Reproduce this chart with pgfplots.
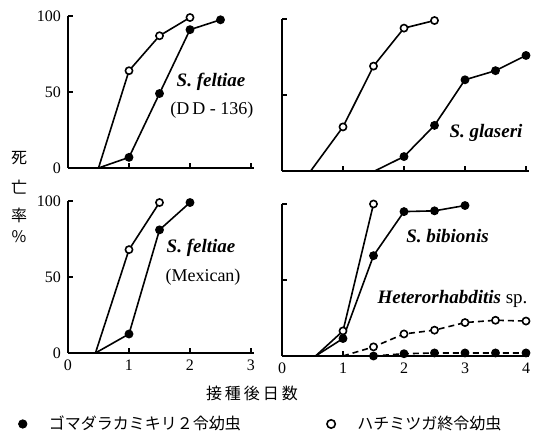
\documentclass[border=0pt]{standalone}
\usepackage{fontspec}
\usepackage{pgfplots}
\pgfplotsset{compat=1.18}
\setmainfont{Liberation Serif}
\newfontfamily\cjk{Noto Sans CJK JP}
\newcommand{\tickfont}{\fontsize{8bp}{9bp}\selectfont}
\newcommand{\spfont}{\fontsize{9.5bp}{11bp}\selectfont\bfseries\itshape}
\newcommand{\jpfont}{\fontsize{8bp}{9bp}\selectfont\cjk}

\pgfplotsset{
  panel/.style={
    scale only axis, axis lines=left, axis line style={-, line width=1bp},
    x=30.5bp, y=0.76bp, xmin=0, ymin=0, ymax=100,
    ytick={0,50,100}, xtick={0,1,2,3,4},
    tick style={black, line width=0.8bp}, major tick length=2.5bp,
    tick align=inside, clip=false,
    ticklabel style={font=\tickfont},
    /pgf/number format/assume math mode=true,
  },
  open/.style={black, line width=0.8bp, mark=*, mark size=1.8bp, mark options={fill=white, solid, line width=0.8bp}},
  full/.style={black, line width=0.8bp, mark=*, mark size=1.8bp, mark options={fill=black, solid}},
}
\begin{document}
\begin{tikzpicture}[x=1bp,y=1bp]
\path[use as bounding box] (0,0) rectangle (268,215.5);
% top left
\begin{axis}[panel, at={(34bp,131.5bp)}, anchor=south west, xmax=3.05, xticklabels={}]
\addplot[open, mark indices={2,3,4}] coordinates {(0.5,0)(1,64)(1.5,87)(2,99)};
\addplot[full, mark indices={2,3,4,5}] coordinates {(0.5,0)(1,7)(1.5,49)(2,91)(2.5,97.5)};
\end{axis}
% top right
\begin{axis}[panel, at={(141bp,130bp)}, anchor=south west, xmax=4.05, xticklabels={}, yticklabels={}]
\addplot[open, mark indices={2,3,4,5}] coordinates {(0.47,0)(1,29)(1.5,69)(2,94)(2.5,99)};
\addplot[full, mark indices={2,3,4,5,6}] coordinates {(1.52,0)(2,9.5)(2.5,30)(3,60)(3.5,66)(4,76)};
\end{axis}
% bottom left
\begin{axis}[panel, at={(34bp,39bp)}, anchor=south west, xmax=3.05,
  legend style={at={(-0.30,-0.467)}, anchor=west, draw=none, fill=none,
    legend columns=2, font=\jpfont, legend cell align=left,
    /tikz/every odd column/.append style={column sep=9bp},
    /tikz/every even column/.append style={column sep=41bp}},
  legend entries={ゴマダラカミキリ２令幼虫, ハチミツガ終令幼虫}]
\addlegendimage{only marks, mark=*, mark size=2.1bp, black, fill=black}
\addlegendimage{only marks, mark=o, mark size=2.1bp, black, line width=0.8bp}
\addplot[open, mark indices={2,3}] coordinates {(0.45,0)(1,68)(1.5,99)};
\addplot[full, mark indices={2,3,4}] coordinates {(0.45,0)(1,12.5)(1.5,81)(2,99)};
\end{axis}
% bottom right
\begin{axis}[panel, at={(141bp,37.5bp)}, anchor=south west, xmax=4.05, yticklabels={}]
\addplot[full, mark indices={2,3,4,5,6}] coordinates {(0.55,0)(1,11.5)(1.5,66)(2,95)(2.5,95.5)(3,99)};
\addplot[open, mark indices={2,3}] coordinates {(0.55,0)(1,16.5)(1.5,100)};
\addplot[open, dash pattern=on 3bp off 2bp, mark indices={2,3,4,5,6,7}] coordinates {(1,0)(1.5,6)(2,14.5)(2.5,17)(3,22)(3.5,23.5)(4,23)};
\addplot[full, dash pattern=on 3bp off 2bp, mark indices={2,3,4,5,6,7}] coordinates {(1,0)(1.5,0)(2,1.5)(2.5,2)(3,2)(3.5,2)(4,2)};
\end{axis}
% labels
\node[font=\spfont] at (105.5,174.5) {S. feltiae};
\node[font=\tickfont\fontsize{9bp}{10bp}\selectfont] at (105.9,160.5) {(D\,D - 136)};
\node[font=\spfont] at (243,149) {S. glaseri};
\node[font=\spfont] at (100.5,91.5) {S. feltiae};
\node[font=\tickfont\fontsize{9bp}{10bp}\selectfont] at (101.5,77) {(Mexican)};
\node[font=\spfont] at (223.75,97.5) {S. bibionis};
\node[font=\spfont] at (226.25,66) {Heterorhabditis \textup{\mdseries sp.}};
\node[font=\jpfont] at (9.5,136.5) {死};
\node[font=\jpfont] at (9.5,122) {亡};
\node[font=\jpfont] at (9.5,108) {率};
\node[font=\jpfont] at (9.5,97) {\%};
\node[font=\jpfont] at (126,19) {接\hspace{1.5bp}種\hspace{1.5bp}後\hspace{1.5bp}日\hspace{1.5bp}数};
\end{tikzpicture}
\end{document}
